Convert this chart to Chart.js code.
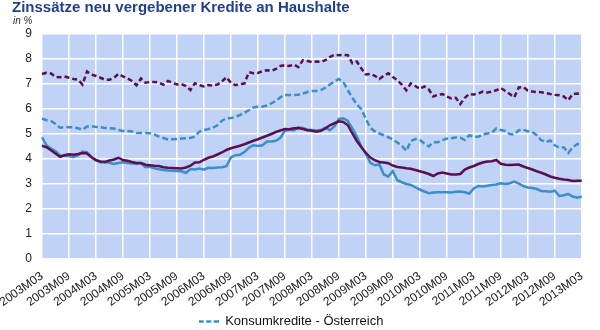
<!DOCTYPE html>
<html>
<head>
<meta charset="utf-8">
<script src="https://cdn.jsdelivr.net/npm/chart.js@4/dist/chart.umd.min.js"></script>
<style>
  html, body { margin: 0; padding: 0; background: #fff; }
  #wrap { width: 600px; height: 330px; position: relative; }
</style>
</head>
<body>
<div id="wrap"><canvas id="myChart"></canvas></div>
<script>
// months 2003M03 .. 2013M03
const months = [];
for (let y = 2003; y <= 2013; y++) {
  for (let m = 1; m <= 12; m++) {
    if ((y === 2003 && m < 3) || (y === 2013 && m > 3)) continue;
    months.push(y + "M" + String(m).padStart(2, "0"));
  }
}

const seriesNames = [
  "Konsumkredite - Österreich",
  "Konsumkredite - Euroraum",
  "Wohnbaukredite - Euroraum",
  "Wohnbaukredite - Österreich",
];

// purple dashed
const konsumEuro = [
  7.40, 7.45, 7.42, 7.28, 7.27, 7.30, 7.25, 7.20, 7.18, 6.98,
  7.50, 7.38, 7.32, 7.25, 7.17, 7.17, 7.25, 7.40, 7.30, 7.22,
  7.12, 6.95, 7.22, 7.05, 7.08, 7.08, 7.06, 6.97, 7.12, 7.05,
  6.98, 7.00, 6.92, 6.76, 7.03, 6.95, 6.90, 6.96, 6.93, 6.98,
  7.10, 7.27, 7.05, 6.95, 7.00, 7.02, 7.47, 7.43, 7.44, 7.52,
  7.55, 7.53, 7.60, 7.72, 7.75, 7.72, 7.78, 7.68, 7.95, 7.92,
  7.88, 7.90, 7.88, 7.95, 8.08, 8.17, 8.15, 8.17, 8.15, 7.83,
  7.90, 7.62, 7.38, 7.40, 7.33, 7.20, 7.33, 7.43, 7.28, 7.15,
  6.98, 6.75, 7.02, 6.92, 6.80, 6.90, 6.78, 6.50, 6.57, 6.60,
  6.50, 6.42, 6.45, 6.20, 6.45, 6.60, 6.58, 6.62, 6.70, 6.66,
  6.69, 6.75, 6.84, 6.72, 6.60, 6.47, 6.86, 6.88, 6.74, 6.70,
  6.68, 6.67, 6.64, 6.60, 6.57, 6.55, 6.50, 6.35, 6.60, 6.62,
  6.60,
];

// blue dashed
const konsumAT = [
  5.62, 5.55, 5.52, 5.40, 5.25, 5.28, 5.27, 5.27, 5.23, 5.17,
  5.30, 5.31, 5.28, 5.27, 5.24, 5.23, 5.22, 5.16, 5.12, 5.12,
  5.10, 5.04, 5.04, 5.04, 5.03, 4.98, 4.90, 4.84, 4.78, 4.79,
  4.80, 4.82, 4.83, 4.84, 4.90, 5.10, 5.15, 5.20, 5.25, 5.35,
  5.53, 5.63, 5.64, 5.68, 5.76, 5.85, 5.95, 6.06, 6.09, 6.09,
  6.14, 6.22, 6.33, 6.47, 6.56, 6.56, 6.56, 6.57, 6.62, 6.68,
  6.72, 6.72, 6.76, 6.85, 6.98, 7.10, 7.20, 7.07, 6.75, 6.45,
  6.18, 6.00, 5.60, 5.25, 5.10, 5.02, 4.95, 4.87, 4.78, 4.66,
  4.53, 4.32, 4.72, 4.80, 4.76, 4.62, 4.50, 4.67, 4.67, 4.75,
  4.82, 4.83, 4.86, 4.85, 4.76, 4.95, 4.89, 4.89, 4.98, 5.02,
  5.05, 5.22, 5.16, 5.12, 5.00, 4.97, 5.15, 5.17, 5.11, 5.08,
  4.95, 4.75, 4.68, 4.74, 4.55, 4.45, 4.47, 4.24, 4.47, 4.60,
  4.57,
];

// purple solid
const wohnEuro = [
  4.53, 4.47, 4.35, 4.22, 4.09, 4.15, 4.19, 4.17, 4.20, 4.24,
  4.22, 4.07, 3.95, 3.90, 3.88, 3.94, 3.98, 4.05, 3.96, 3.93,
  3.88, 3.84, 3.84, 3.77, 3.75, 3.73, 3.72, 3.67, 3.65, 3.64,
  3.63, 3.62, 3.66, 3.73, 3.86, 3.87, 3.97, 4.05, 4.10, 4.18,
  4.26, 4.36, 4.43, 4.48, 4.53, 4.59, 4.66, 4.73, 4.79, 4.86,
  4.93, 5.00, 5.08, 5.14, 5.20, 5.19, 5.23, 5.24, 5.20, 5.15,
  5.13, 5.09, 5.13, 5.22, 5.35, 5.43, 5.51, 5.48, 5.35, 5.02,
  4.72, 4.47, 4.25, 4.06, 3.95, 3.88, 3.86, 3.83, 3.74, 3.68,
  3.66, 3.63, 3.61, 3.56, 3.51, 3.46, 3.40, 3.32, 3.42, 3.46,
  3.42, 3.38, 3.38, 3.40, 3.58, 3.66, 3.72, 3.80, 3.86, 3.90,
  3.91, 3.96, 3.81, 3.77, 3.76, 3.77, 3.78, 3.70, 3.64, 3.58,
  3.51, 3.45, 3.38, 3.30, 3.25, 3.21, 3.18, 3.16, 3.12, 3.13,
  3.13,
];

// blue solid
const wohnAT = [
  4.87, 4.55, 4.42, 4.32, 4.14, 4.13, 4.12, 4.07, 4.14, 4.30,
  4.27, 4.08, 3.97, 3.86, 3.88, 3.85, 3.80, 3.84, 3.87, 3.84,
  3.82, 3.80, 3.83, 3.67, 3.69, 3.63, 3.59, 3.56, 3.54, 3.53,
  3.52, 3.51, 3.45, 3.60, 3.58, 3.62, 3.57, 3.65, 3.64, 3.66,
  3.67, 3.71, 4.06, 4.15, 4.17, 4.28, 4.45, 4.55, 4.52, 4.55,
  4.70, 4.70, 4.73, 4.85, 5.13, 5.17, 5.14, 5.26, 5.24, 5.18,
  5.16, 5.14, 5.16, 5.25, 5.15, 5.30, 5.60, 5.63, 5.52, 5.22,
  4.90, 4.50, 4.20, 3.85, 3.75, 3.78, 3.38, 3.30, 3.52, 3.15,
  3.07, 3.00, 2.96, 2.87, 2.78, 2.70, 2.63, 2.66, 2.67, 2.67,
  2.67, 2.66, 2.69, 2.70, 2.67, 2.62, 2.82, 2.92, 2.90, 2.93,
  2.96, 2.98, 3.03, 3.00, 3.03, 3.10, 3.02, 2.92, 2.86, 2.84,
  2.80, 2.72, 2.71, 2.69, 2.73, 2.52, 2.55, 2.60, 2.50, 2.45,
  2.50,
];

const purple = "#5c0f4f";
const blue = "#3b8fc6";
const font = "'Liberation Sans', Arial, sans-serif";

// dashed sample for the legend
const legendLine = document.createElement("canvas");
legendLine.width = 20;
legendLine.height = 3;
const lctx = legendLine.getContext("2d");
lctx.strokeStyle = blue;
lctx.lineWidth = 2.5;
lctx.setLineDash([5, 2.5]);
lctx.beginPath();
lctx.moveTo(0, 1.5);
lctx.lineTo(20, 1.5);
lctx.stroke();

const plotBg = {
  id: "plotBg",
  beforeDraw(chart) {
    const { ctx, chartArea } = chart;
    ctx.save();
    ctx.fillStyle = "#c0d3f7";
    ctx.fillRect(chartArea.left, chartArea.top, chartArea.right - chartArea.left, chartArea.bottom - chartArea.top);
    ctx.restore();
  },
  afterDraw(chart) {
    const ctx = chart.ctx;
    ctx.save();
    ctx.fillStyle = "#203f8c";
    ctx.font = "bold 15px " + font;
    ctx.fillText("Zinssätze neu vergebener Kredite an Haushalte", 12, 8);
    ctx.fillStyle = "#222";
    ctx.font = "italic 10px " + font;
    ctx.fillText("in %", 13, 21);
    ctx.restore();
  },
};

new Chart("myChart", {
  type: "line",
  data: {
    labels: months,
    datasets: [
      {
        label: seriesNames[0],
        data: konsumAT,
        borderColor: blue,
        borderWidth: 2.5,
        borderDash: [6, 3],
        pointStyle: legendLine,
        order: 3,
      },
      {
        label: seriesNames[1],
        data: konsumEuro,
        borderColor: purple,
        borderWidth: 2.5,
        borderDash: [5, 3],
        order: 2,
      },
      {
        label: seriesNames[2],
        data: wohnEuro,
        borderColor: purple,
        borderWidth: 2.5,
        order: 0,
      },
      {
        label: seriesNames[3],
        data: wohnAT,
        borderColor: blue,
        borderWidth: 2.5,
        order: 1,
      },
    ],
  },
  options: {
    responsive: true,
    maintainAspectRatio: false,
    animation: false,
    elements: {
      point: { radius: 0 },
      line: { tension: 0 },
    },
    layout: {
      padding: { top: 34, right: 18, left: 0, bottom: -8 },
    },
    scales: {
      x: {
        grid: { color: "#ffffff", lineWidth: 1.5, drawTicks: false },
        border: { display: false },
        ticks: {
          autoSkip: false,
          minRotation: 35,
          maxRotation: 35,
          padding: 10,
          color: "#222",
          font: { family: font, size: 12 },
          callback: function (val, idx) {
            return idx % 6 === 0 ? this.getLabelForValue(val) : null;
          },
        },
        afterFit(scale) {
          scale.height = 52;
          scale.paddingLeft = 0;
        },
      },
      y: {
        min: 0,
        max: 9,
        grid: { color: "#ffffff", lineWidth: 1.5, drawTicks: false },
        border: { display: false },
        ticks: {
          stepSize: 1,
          padding: 10,
          color: "#222",
          font: { family: font, size: 12 },
        },
        afterFit(scale) {
          scale.width = 42;
        },
      },
    },
    plugins: {
      legend: {
        position: "bottom",
        labels: {
          filter: (item) => item.datasetIndex === 0,
          usePointStyle: true,
          pointStyleWidth: 20,
          padding: 4,
          color: "#111",
          font: { family: font, size: 13 },
        },
      },
      tooltip: { enabled: false },
    },
  },
  plugins: [plotBg],
});
</script>
</body>
</html>
